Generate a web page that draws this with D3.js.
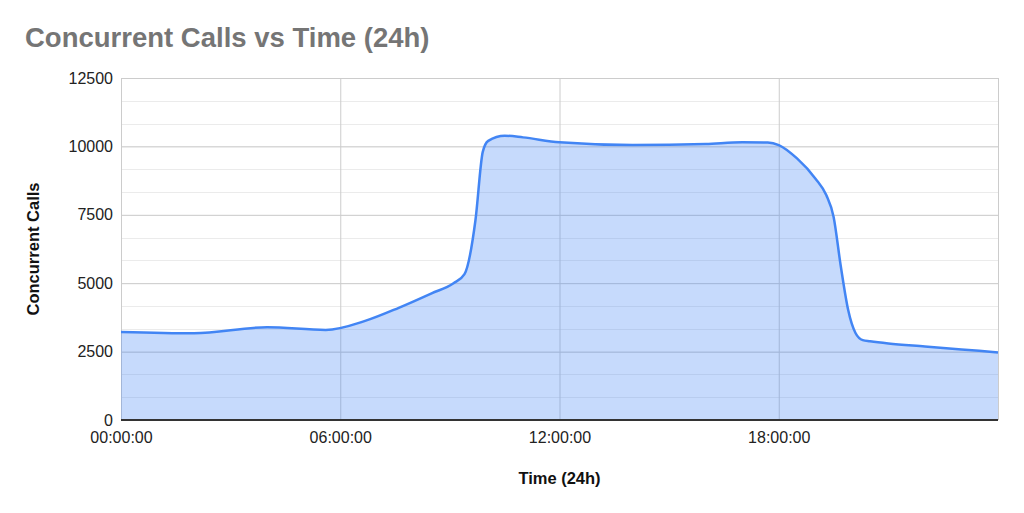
<!DOCTYPE html>
<html>
<head>
<meta charset="utf-8">
<script src="https://cdn.jsdelivr.net/npm/d3@7"></script>
<style>
  body { margin: 0; background: #fff; }
  text { font-family: "Liberation Sans", Arial, sans-serif; }
</style>
</head>
<body>
<div id="chart"></div>
<script>
// hours since midnight and concurrent calls
var hours = [0, 2, 4, 5.6, 6.7, 7.6, 8.5, 9.1, 9.4, 9.7, 9.9, 10.05, 10.5, 11, 12, 14, 16, 17, 17.7, 18, 18.5, 19, 19.3, 19.5, 19.7, 19.9, 20.1, 20.3, 20.5, 21, 22, 23, 24];
var calls = [3220, 3170, 3390, 3290, 3630, 4100, 4630, 5000, 5330, 7300, 9800, 10200, 10390, 10330, 10150, 10050, 10090, 10150, 10140, 10050, 9560, 8830, 8220, 7430, 5600, 4020, 3180, 2920, 2880, 2800, 2690, 2580, 2470];

var xTicks = [0, 6, 12, 18];
var xTickLabels = ["00:00:00", "06:00:00", "12:00:00", "18:00:00"];
var yTicks = [0, 2500, 5000, 7500, 10000, 12500];

var data = hours.map(function(h, i) { return {h: h, v: calls[i]}; });

var W = 1024, H = 513;
var margin = {top: 78, right: 26, bottom: 93, left: 121},
  width = W - margin.left - margin.right,
  height = H - margin.top - margin.bottom;

var root = d3.select("#chart").append("svg")
  .attr("width", W)
  .attr("height", H);

root.append("text")
  .attr("x", 25).attr("y", 47)
  .attr("font-size", 27.5).attr("font-weight", "bold")
  .attr("fill", "#757575")
  .text("Concurrent Calls vs Time (24h)");

var svg = root.append("g")
  .attr("transform", "translate(" + margin.left + "," + margin.top + ")");

var x = d3.scaleLinear().domain([0, 24]).range([0, width]);
var y = d3.scaleLinear().domain([0, 12500]).range([height, 0]);

// minor gridlines
svg.append("g")
  .selectAll("line")
  .data(d3.range(0, 12501, 12500 / 15))
  .enter().append("line")
  .attr("x1", 0).attr("x2", width)
  .attr("y1", function(d) { return Math.round(y(d)) + 0.5; })
  .attr("y2", function(d) { return Math.round(y(d)) + 0.5; })
  .attr("stroke", "#ebebeb");

// major gridlines
svg.append("g")
  .call(d3.axisLeft(y).tickValues(yTicks).tickSize(-width).tickFormat(""))
  .call(function(g) { g.select(".domain").remove(); })
  .selectAll("line").attr("stroke", "#cccccc");

svg.append("g")
  .attr("transform", "translate(0," + height + ")")
  .call(d3.axisBottom(x).tickValues(xTicks.concat([24])).tickSize(-height).tickFormat(""))
  .call(function(g) { g.select(".domain").remove(); })
  .selectAll("line").attr("stroke", "#cccccc");

var area = d3.area()
  .x(function(d) { return x(d.h); })
  .y0(height)
  .y1(function(d) { return y(d.v); })
  .curve(d3.curveMonotoneX);

var line = d3.line()
  .x(function(d) { return x(d.h); })
  .y(function(d) { return y(d.v); })
  .curve(d3.curveMonotoneX);

svg.append("path")
  .datum(data)
  .attr("d", area)
  .attr("fill", "#4285f4")
  .attr("fill-opacity", 0.3);

svg.append("path")
  .datum(data)
  .attr("d", line)
  .attr("fill", "none")
  .attr("stroke", "#4285f4")
  .attr("stroke-width", 2.5);

// baseline
svg.append("line")
  .attr("x1", 0).attr("x2", width)
  .attr("y1", height).attr("y2", height)
  .attr("stroke", "#333333").attr("stroke-width", 2);

// y tick labels
var yAxis = svg.append("g")
  .call(d3.axisLeft(y).tickValues(yTicks).tickSize(0).tickPadding(8).tickFormat(d3.format("d")));
yAxis.select(".domain").remove();
yAxis.selectAll("text")
  .attr("font-size", 16).attr("fill", "#222")
  .style("font-family", "'Liberation Sans', Arial, sans-serif");

// x tick labels
var xAxis = svg.append("g")
  .attr("transform", "translate(0," + height + ")")
  .call(d3.axisBottom(x).tickValues(xTicks).tickSize(0).tickPadding(12)
    .tickFormat(function(d, i) { return xTickLabels[i]; }));
xAxis.select(".domain").remove();
xAxis.selectAll("text")
  .attr("font-size", 16).attr("fill", "#222")
  .style("font-family", "'Liberation Sans', Arial, sans-serif");

// axis titles
root.append("text")
  .attr("x", margin.left + x(12)).attr("y", 484)
  .attr("text-anchor", "middle")
  .attr("font-size", 16.5).attr("font-weight", "bold").attr("fill", "#111")
  .text("Time (24h)");

root.append("text")
  .attr("transform", "translate(39," + (margin.top + height / 2) + ") rotate(-90)")
  .attr("text-anchor", "middle")
  .attr("font-size", 16.5).attr("font-weight", "bold").attr("fill", "#111")
  .text("Concurrent Calls");
</script>
</body>
</html>
